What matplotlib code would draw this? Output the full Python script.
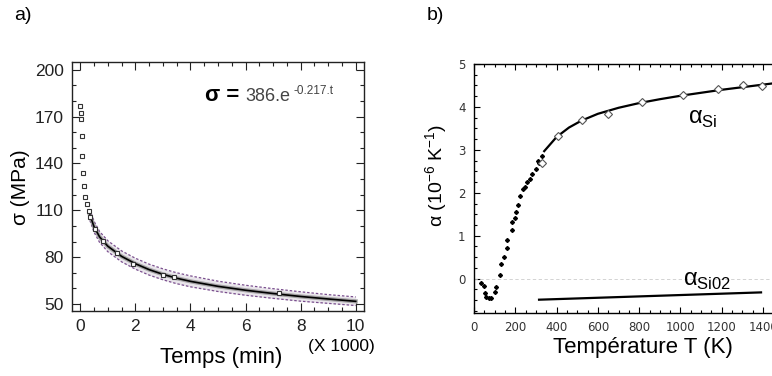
import matplotlib
matplotlib.use("Agg")
import matplotlib.pyplot as plt
from matplotlib.ticker import MultipleLocator

# ---------------- data: panel a) ----------------
t_pts = [0.0, 0.02, 0.02, 0.05, 0.07, 0.11, 0.15, 0.18, 0.25, 0.30, 0.36, 0.52, 0.82, 1.33, 1.90, 3.00, 3.40, 7.20]
sig_pts = [176.9, 172.2, 168.6, 157.9, 144.9, 133.8, 125.8, 118.4, 114.1, 109.6, 106.0, 98.3, 90.6, 82.5, 75.5, 68.4, 67.5, 57.3]
t_fit = [0.35, 0.5, 0.7, 1.0, 1.5, 2.0, 2.5, 3.0, 3.5, 4.0, 5.0, 6.0, 7.0, 8.0, 9.0, 10.0]
sig_fit = [107.0, 99.5, 93.0, 87.0, 80.5, 75.8, 72.0, 69.0, 66.5, 64.5, 61.3, 58.8, 56.7, 54.8, 53.2, 51.7]
sig_hi = [110.5, 103.0, 96.5, 90.5, 84.0, 79.3, 75.5, 72.5, 70.0, 68.0, 64.6, 62.0, 59.8, 57.8, 56.0, 54.5]
sig_lo = [103.5, 96.0, 89.5, 83.5, 77.0, 72.3, 68.5, 65.5, 63.0, 61.0, 58.0, 55.6, 53.6, 51.8, 50.4, 49.0]
a_yticks = [50, 80, 110, 140, 170, 200]
a_xticks = [0, 2, 4, 6, 8, 10]

# ---------------- data: panel b) ----------------
T_low = [32, 48, 54, 60, 73, 84, 100, 108, 127, 132, 143, 159, 162, 183, 186, 199, 202, 214, 225,
         238, 246, 259, 270, 283, 302, 308, 315, 330]
a_low = [-0.09, -0.16, -0.33, -0.43, -0.45, -0.44, -0.32, -0.19, 0.09, 0.33, 0.51, 0.72, 0.91, 1.14,
         1.31, 1.41, 1.55, 1.72, 1.92, 2.09, 2.14, 2.24, 2.32, 2.44, 2.56, 2.75, 2.70, 2.85]
T_high = [327, 405, 522, 650, 812, 1014, 1183, 1304, 1396]
a_high = [2.70, 3.32, 3.69, 3.84, 4.11, 4.27, 4.41, 4.51, 4.48]
T_si = [340, 400, 460, 520, 600, 700, 800, 900, 1000, 1100, 1200, 1300, 1400, 1500]
a_si = [2.97, 3.30, 3.52, 3.68, 3.84, 3.98, 4.09, 4.18, 4.26, 4.33, 4.40, 4.46, 4.52, 4.58]
T_sio2 = [315, 1390]
a_sio2 = [-0.49, -0.32]
b_xticks = [0, 200, 400, 600, 800, 1000, 1200, 1400]
b_yticks = [0, 1, 2, 3, 4, 5]

W, H = 772, 376
fig = plt.figure(figsize=(W / 100, H / 100), dpi=100)

narrow = ['Liberation Sans Narrow', 'Liberation Sans', 'DejaVu Sans']
sans = ['Liberation Sans', 'DejaVu Sans']

# ---------------- panel a ----------------
ax = fig.add_axes([72 / W, 1 - 311 / H, (364 - 72) / W, (311 - 62) / H])
ax.set_xlim(-0.3, 10.3)
ax.set_ylim(45.5, 205)
ax.fill_between(t_fit, sig_lo, sig_hi, color='#b9a9c0', alpha=0.3, lw=0)
ax.plot(t_fit, sig_hi, ls=(0, (2, 1.5)), color='#7a4f8e', lw=0.9)
ax.plot(t_fit, sig_lo, ls=(0, (2, 1.5)), color='#7a4f8e', lw=0.9)
ax.plot(t_fit, sig_fit, color='#888888', lw=3.0, alpha=0.7)
ax.plot(t_fit, sig_fit, color='black', lw=1.2)
ax.plot(t_pts, sig_pts, ls='none', marker='s', ms=3.5, mfc='white', mec='#333333', mew=0.8)
ax.set_xticks(a_xticks)
ax.set_yticks(a_yticks)
ax.xaxis.set_minor_locator(MultipleLocator(0.5))
ax.yaxis.set_minor_locator(MultipleLocator(10))
ax.tick_params(which='both', direction='in', top=True, right=True, colors='#222222')
ax.tick_params(which='major', length=6, width=0.8, labelsize=12.5, pad=6)
ax.tick_params(which='minor', length=3, width=0.8)
for lab in ax.get_xticklabels() + ax.get_yticklabels():
    lab.set_family(narrow)
for s in ax.spines.values():
    s.set_linewidth(1.0)
    s.set_color('#222222')
ax.text(0.455, 0.865, 'σ =', transform=ax.transAxes, fontsize=16, fontweight='bold',
        family=sans, va='center', ha='left')
ax.text(0.595, 0.86, '386.e', transform=ax.transAxes, fontsize=13, family=sans,
        color='#444444', va='center', ha='left')
ax.text(0.76, 0.885, '-0.217.t', transform=ax.transAxes, fontsize=8.5, family=sans,
        color='#444444', va='center', ha='left')
fig.text(221 / W, 1 - 358 / H, 'Temps (min)', fontsize=16, family=sans, ha='center', va='center')
fig.text(341 / W, 1 - 347 / H, '(X 1000)', fontsize=12.5, family=sans, ha='center', va='center')
fig.text(20 / W, 1 - 187 / H, 'σ (MPa)', fontsize=15, family=sans, rotation=90,
         ha='center', va='center')
fig.text(23 / W, 1 - 15 / H, 'a)', fontsize=14, family=sans, ha='center', va='center')

# ---------------- panel b ----------------
bx = fig.add_axes([474 / W, 1 - 313 / H, (783.75 - 474) / W, (313 - 64) / H])
bx.set_xlim(0, 1500)
bx.set_ylim(-0.8, 5)
bx.axhline(0, color='#cccccc', lw=0.6, ls=(0, (4, 3)))
bx.plot(T_si, a_si, color='black', lw=1.6)
bx.plot(T_sio2, a_sio2, color='black', lw=1.6)
bx.plot(T_low, a_low, ls='none', marker='D', ms=2.0, color='black')
bx.plot(T_high, a_high, ls='none', marker='D', ms=4.2, mfc='white', mec='#555555', mew=0.8)
bx.set_xticks(b_xticks)
bx.set_yticks(b_yticks)
bx.xaxis.set_minor_locator(MultipleLocator(50))
bx.yaxis.set_minor_locator(MultipleLocator(0.25))
bx.tick_params(which='both', direction='in', top=True, right=True)
bx.tick_params(which='major', length=4, width=0.8, labelsize=8.5, labelcolor='#333333', pad=6)
bx.tick_params(which='minor', length=2, width=0.8)
for s in bx.spines.values():
    s.set_linewidth(1.0)
bx.text(1110, 3.72, r'α$_{\mathregular{Si}}$', fontsize=17, family=sans, ha='center', va='center')
bx.text(1130, -0.05, r'α$_{\mathregular{Si02}}$', fontsize=17, family=sans, ha='center', va='center')
fig.text(643 / W, 1 - 348 / H, 'Température T (K)', fontsize=16, family=sans, ha='center', va='center')
fig.text(437 / W, 1 - 175 / H, r'α (10$^{\mathregular{-6}}$ K$^{\mathregular{-1}}$)', fontsize=14,
         family=sans, rotation=90, ha='center', va='center')
fig.text(435 / W, 1 - 15 / H, 'b)', fontsize=14, family=sans, ha='center', va='center')

fig.savefig('out.png', dpi=100)
